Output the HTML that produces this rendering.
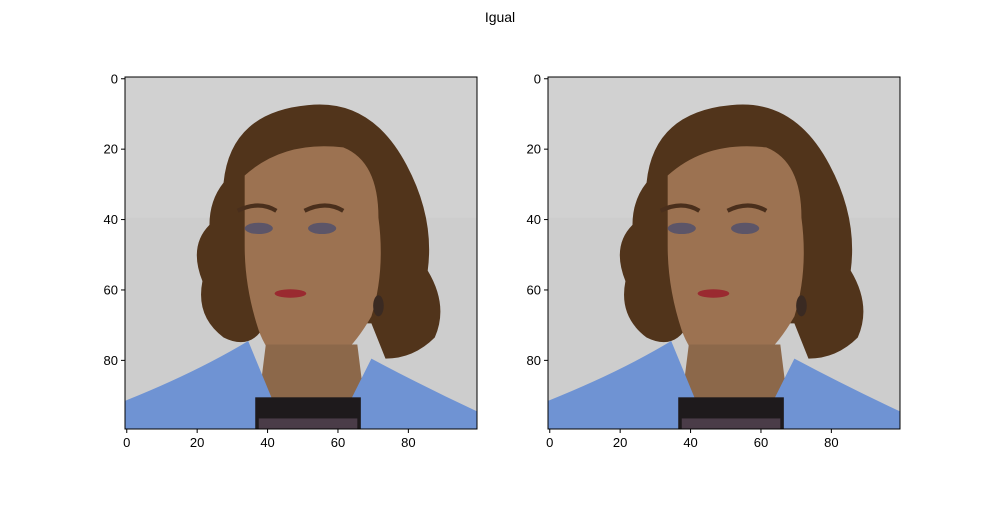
<!DOCTYPE html>
<html><head><meta charset="utf-8"><style>
body{margin:0;background:#fff;width:1000px;height:500px;overflow:hidden}
svg{font-family:"Liberation Sans",sans-serif}
</style></head><body>
<svg width="1000" height="500">
<defs>
<symbol id="face" viewBox="0 0 100 100">
<rect x="0" y="0" width="100" height="100" fill="#cdcdcd"/>
<rect x="0" y="0" width="100" height="40" fill="#d1d1d1"/>
<path d="M28 30 Q30 10 52 8 Q70 6 80 25 Q88 40 86 55 Q92 65 88 74 Q82 80 74 80 L70 70 L40 70 Q36 78 28 74 Q20 68 22 58 Q18 48 24 42 Q24 35 28 30Z" fill="#51341b"/>
<path d="M34 28 Q45 18 62 20 Q72 24 72 40 Q74 55 70 68 Q62 82 52 84 Q42 83 38 72 Q34 60 34 48Z" fill="#9c7251"/>
<path d="M40 76 L66 76 L68 92 L38 92Z" fill="#8c684a"/>
<path d="M0 92 Q20 84 35 75 L42 92 L37 100 L0 100Z" fill="#6f93d3"/>
<path d="M100 95 Q85 88 70 80 L64 92 L67 100 L100 100Z" fill="#6f93d3"/>
<rect x="37" y="91" width="30" height="9" fill="#1e1a1c"/>
<rect x="38" y="97" width="28" height="3" fill="#4a3c48"/>
<ellipse cx="38" cy="43" rx="4" ry="1.6" fill="#5c5568"/>
<ellipse cx="56" cy="43" rx="4" ry="1.6" fill="#5c5568"/>
<path d="M32 38 Q38 35 43 38" stroke="#4a2f1c" stroke-width="1.2" fill="none"/>
<path d="M51 38 Q57 35 62 38" stroke="#4a2f1c" stroke-width="1.2" fill="none"/>
<ellipse cx="47" cy="61.5" rx="4.5" ry="1.2" fill="#9a2a30"/>
<ellipse cx="72" cy="65" rx="1.5" ry="3" fill="#3a2a22"/>
</symbol>
</defs>
<text x="500" y="22" text-anchor="middle" font-size="14">Igual</text>
<g>
<use href="#face" x="125" y="77" width="352" height="352"/>
<rect x="125" y="77" width="352" height="352" fill="none" stroke="#000" stroke-width="1"/>
</g>
<g>
<use href="#face" x="548" y="77" width="352" height="352"/>
<rect x="548" y="77" width="352" height="352" fill="none" stroke="#000" stroke-width="1"/>
</g>
<g id="ticks" font-size="13"></g>
<script>
const tickVals=[0,20,40,60,80];
const panels=[125,548];
const g=document.getElementById('ticks');
const ns='http://www.w3.org/2000/svg';
const sc=3.52, top0=77;
panels.forEach(px=>{
 tickVals.forEach(v=>{
  const p=v*sc+sc/2;
  let l=document.createElementNS(ns,'line');
  l.setAttribute('x1',px+p);l.setAttribute('x2',px+p);l.setAttribute('y1',429);l.setAttribute('y2',433);l.setAttribute('stroke','#000');
  
  
  g.appendChild(l);
  let t=document.createElementNS(ns,'text');
  t.setAttribute('x',px+p);t.setAttribute('y',447);t.setAttribute('text-anchor','middle');t.textContent=v;
  
  
  g.appendChild(t);
  let l2=document.createElementNS(ns,'line');
  l2.setAttribute('x1',px-4);l2.setAttribute('x2',px);l2.setAttribute('y1',top0+p);l2.setAttribute('y2',top0+p);l2.setAttribute('stroke','#000');
  
  
  g.appendChild(l2);
  let t2=document.createElementNS(ns,'text');
  t2.setAttribute('x',px-7);t2.setAttribute('y',top0+p+4.5);t2.setAttribute('text-anchor','end');t2.textContent=v;
  
  
  g.appendChild(t2);
 });
});
</script>
</svg>
</body></html>
